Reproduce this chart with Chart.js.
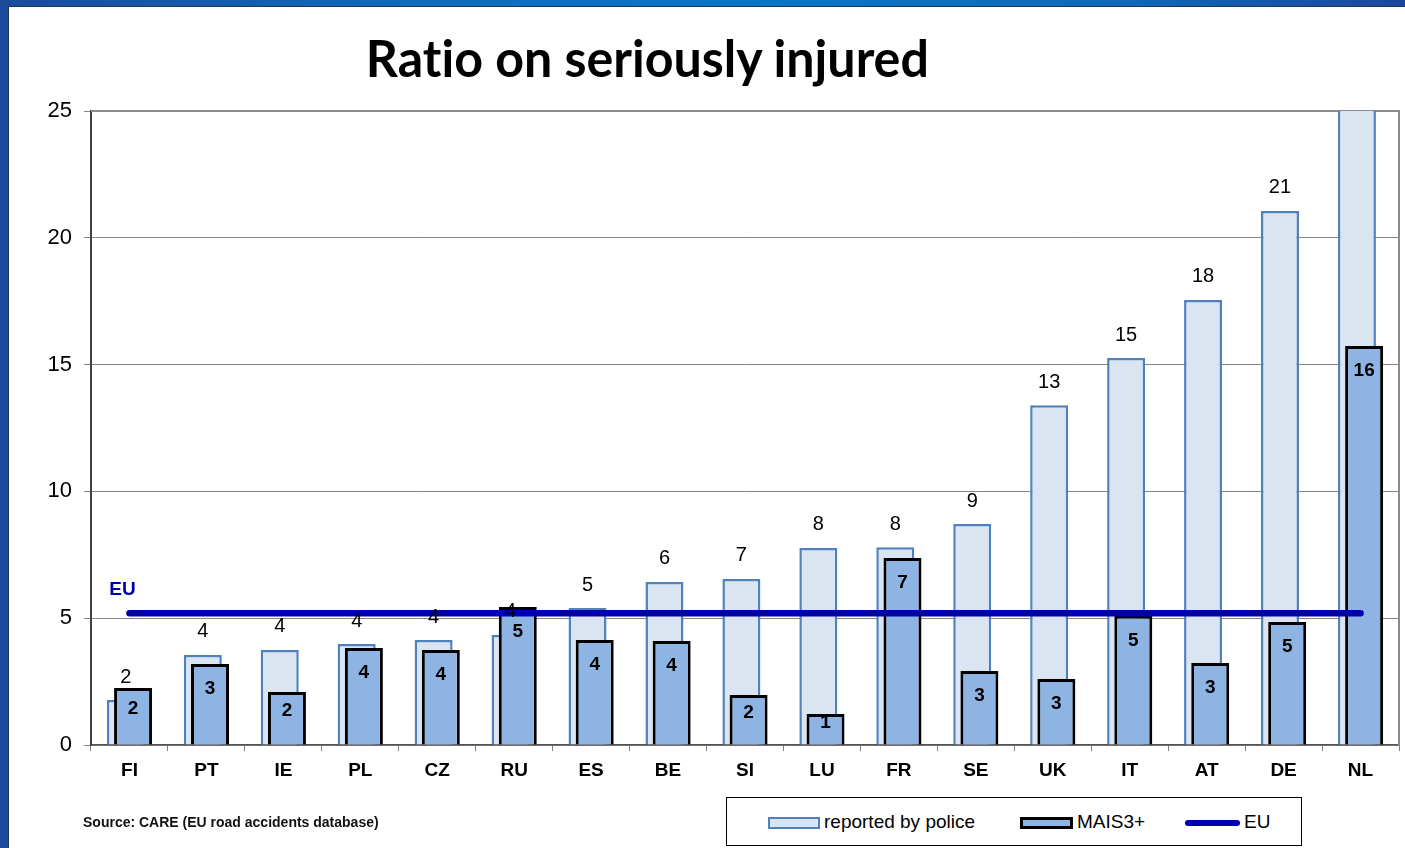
<!DOCTYPE html>
<html><head><meta charset="utf-8">
<script src="https://cdn.jsdelivr.net/npm/chart.js@4/dist/chart.umd.min.js"></script>
<style>
html,body{margin:0;padding:0;}
body{width:1405px;height:848px;position:relative;overflow:hidden;
  background:linear-gradient(90deg,#1b4b9b 0%,#0e6cbc 30%,#0b76c4 55%,#0f69b8 80%,#1c479c 100%);
  font-family:"Liberation Sans",Arial,sans-serif;}
#panel{position:absolute;left:9px;top:7px;width:1396px;height:841px;background:#fff;box-shadow:-1px -1px 0 #22364f;}
#wrap{position:absolute;left:0;top:0;width:1396px;height:841px;}
#title{position:absolute;left:0;top:32px;width:1295px;text-align:center;font-family:Lato,"Open Sans",sans-serif;font-weight:700;font-size:51px;line-height:51px;color:#000;white-space:nowrap;font-variant-ligatures:none;font-feature-settings:"liga" 0;}
#title span{display:inline-block;transform-origin:50% 50%;}
#source{position:absolute;left:83px;top:814px;font-weight:700;font-size:14px;color:#111;white-space:nowrap;}
#legend{position:absolute;left:726px;top:797px;width:576px;height:49px;border:1px solid #000;box-sizing:border-box;background:#fff;}
.li{position:absolute;top:13px;font-size:19px;line-height:22px;color:#000;white-space:nowrap;}
.sw{position:absolute;top:19px;height:12px;box-sizing:border-box;}
</style>
</head>
<body>
<div id="panel"><div id="wrap"><canvas id="c"></canvas></div></div>
<div id="title"><span id="tspan">Ratio on seriously injured</span></div>
<div id="source">Source: CARE (EU road accidents database)</div>
<div id="legend">
  <div class="sw" style="left:41px;width:52px;background:#dbe5f1;border:2px solid #4f81bd;"></div>
  <div class="li" style="left:97px;">reported by police</div>
  <div class="sw" style="left:293px;width:53px;background:#8db4e2;border:3px solid #000;"></div>
  <div class="li" style="left:350px;">MAIS3+</div>
  <div class="sw" style="left:458px;width:55px;height:6px;top:22px;background:#0000b0;border-radius:3px;"></div>
  <div class="li" style="left:517px;">EU</div>
</div>
<script>
const categories = ['FI','PT','IE','PL','CZ','RU','ES','BE','SI','LU','FR','SE','UK','IT','AT','DE','NL'];
const policeValues = [1.77,3.55,3.75,3.98,4.14,4.34,5.4,6.43,6.55,7.77,7.8,8.71,13.4,15.26,17.55,21.06,30];
const maisValues = [2.25,3.19,2.09,3.82,3.75,5.44,4.14,4.1,1.97,1.22,7.37,2.92,2.6,5.1,3.23,4.85,15.73];
const euValue = 5.2;
const euValues = categories.map(() => euValue);
const yTicks = [0,5,10,15,20,25];

// fit title width
(function(){
  const s = document.getElementById('tspan');
  const w = s.getBoundingClientRect().width;
  s.style.transform = 'scaleX(' + (563 / w) + ')';
})();

const LINE = 0, POLICE = 1, MAIS = 2;

const labelPlugin = {
  id: 'valueLabels',
  beforeDatasetsDraw(chart) {
    const {ctx, chartArea: a} = chart;
    ctx.save();
    ctx.strokeStyle = '#8c8c8c';
    ctx.lineWidth = 2;
    ctx.beginPath();
    ctx.moveTo(a.left, a.top); ctx.lineTo(a.right, a.top); ctx.lineTo(a.right, a.bottom);
    ctx.stroke();
    ctx.restore();
  },
  // draw MAIS bars over the police bars (they keep their group position on the right)
  beforeDatasetDraw(chart, args) {
    if (args.index === MAIS) return false;
  },
  afterDatasetDraw(chart, args) {
    if (args.index === POLICE) chart.getDatasetMeta(MAIS).controller.draw();
  },
  afterDatasetsDraw(chart) {
    const {ctx} = chart;
    const yScale = chart.scales.y;
    ctx.save();
    ctx.textAlign = 'center';
    ctx.textBaseline = 'middle';
    ctx.fillStyle = '#000';
    ctx.font = '20px "Liberation Sans", Arial, sans-serif';
    chart.getDatasetMeta(POLICE).data.forEach((bar, i) => {
      const v = policeValues[i];
      if (v > yScale.max) return;
      ctx.fillText(String(Math.round(v)), bar.x, bar.y - 23);
    });
    ctx.font = 'bold 19px "Liberation Sans", Arial, sans-serif';
    chart.getDatasetMeta(MAIS).data.forEach((bar, i) => {
      const v = maisValues[i];
      const y = Math.min(bar.y + 25, (bar.y + bar.base) / 2 - 7);
      ctx.fillText(String(Math.round(v)), bar.x, y);
    });
    const p0 = chart.getDatasetMeta(LINE).data[0];
    ctx.fillStyle = '#0000b0';
    ctx.font = 'bold 19px "Liberation Sans", Arial, sans-serif';
    ctx.fillText('EU', p0.x - 7, p0.y - 23);
    ctx.restore();
  }
};

const cPct = 0.187, bPct = 5.28;

new Chart(document.getElementById('c'), {
  data: {
    labels: categories,
    datasets: [
      {type:'line', label:'EU', data: euValues, borderColor:'#0000b0', borderWidth:6.5,
       pointRadius:0, borderCapStyle:'round', order:0, fill:false},
      {type:'bar', label:'reported by police', data: policeValues, backgroundColor:'#dbe5f1',
       borderColor:'#4f81bd', borderWidth:2.5, categoryPercentage:cPct, barPercentage:bPct, order:1},
      {type:'bar', label:'MAIS3+', data: maisValues, backgroundColor:'#8db4e2',
       borderColor:'#000', borderWidth:3, categoryPercentage:cPct, barPercentage:bPct, order:1}
    ]
  },
  options: {
    responsive:true, maintainAspectRatio:false, animation:false,
    layout:{padding:{left:0, right:6, top:104, bottom:63}},
    plugins:{legend:{display:false}, title:{display:false}, tooltip:{enabled:false}},
    scales:{
      x:{type:'category', offset:true, position:'bottom',
         grid:{offset:true, drawOnChartArea:false, drawTicks:true, tickLength:6, color:'#808080'},
         border:{color:'#555', width:1.5},
         ticks:{color:'#000', font:{family:'"Liberation Sans", Arial, sans-serif', size:19, weight:'bold'}, padding:8, maxRotation:0, autoSkip:false},
         afterFit(s){ s.height = 40; }},
      y:{type:'linear', min:0, max:25,
         afterBuildTicks(s){ s.ticks = yTicks.map(v => ({value:v})); },
         grid:{color:'#868686', lineWidth:1, tickLength:7, drawTicks:true},
         border:{color:'#404040', width:2},
         ticks:{color:'#000', font:{family:'"Liberation Sans", Arial, sans-serif', size:22}, padding:12},
         afterFit(s){ s.width = 82; }}
    }
  },
  plugins:[labelPlugin]
});
</script>
</body></html>
